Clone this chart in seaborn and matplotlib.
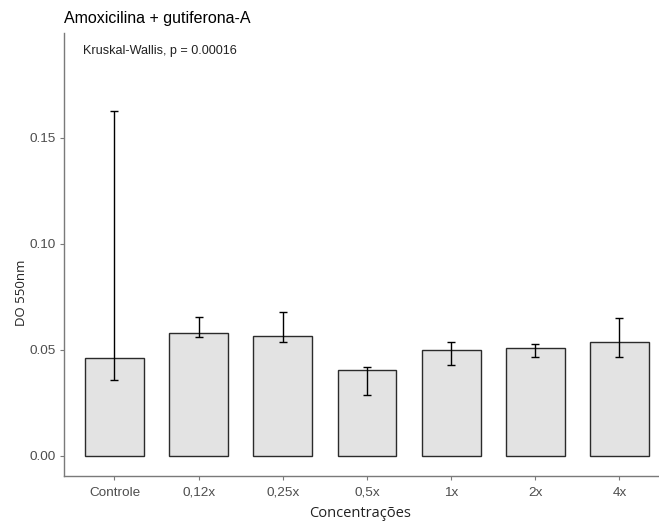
import matplotlib
matplotlib.use("Agg")
import matplotlib.pyplot as plt
import seaborn as sns
import numpy as np
import pandas as pd

# Absorbance (DO 550nm) by concentration
categorias = ["Controle", "0,12x", "0,25x", "0,5x", "1x", "2x", "4x"]
media = [0.0461, 0.0579, 0.0568, 0.0407, 0.0499, 0.0509, 0.0539]
limite_inf = [0.0357, 0.0560, 0.0538, 0.0288, 0.0428, 0.0468, 0.0468]
limite_sup = [0.1629, 0.0657, 0.0678, 0.0418, 0.0539, 0.0530, 0.0650]
yticks = [0.00, 0.05, 0.10, 0.15]

df = pd.DataFrame({"conc": categorias, "do": media})

sns.set_style("white")
plt.rcParams["font.family"] = ["Liberation Sans", "DejaVu Sans"]

fig = plt.figure(figsize=(6.59, 5.23), dpi=100)
ax = fig.add_axes([64 / 659, (523 - 475.7) / 523, (659 - 64) / 659, (475.7 - 33) / 523])

sns.barplot(data=df, x="conc", y="do", order=categorias, width=0.7,
            color="#e3e3e3", edgecolor="#2b2b2b", linewidth=1.0,
            errorbar=None, ax=ax, saturation=1)

xs = np.arange(len(categorias))
yerr = np.array([np.array(media) - np.array(limite_inf),
                 np.array(limite_sup) - np.array(media)])
ax.errorbar(xs, media, yerr=yerr, fmt="none", ecolor="black",
            elinewidth=1.0, capsize=2.9, capthick=1.0, zorder=5)

ax.set_xlim(-0.6, 6.47)
ax.set_ylim(-0.0093, 0.1995)
ax.set_yticks(yticks)
ax.set_yticklabels([f"{v:.2f}" for v in yticks])

for side in ["top", "right"]:
    ax.spines[side].set_visible(False)
for side in ["left", "bottom"]:
    ax.spines[side].set_color("#7a7a7a")
    ax.spines[side].set_linewidth(1.0)

ax.tick_params(axis="both", which="both", length=3, width=0.8, color="#7a7a7a",
               labelsize=9.7, labelcolor="#4d4d4d", pad=3,
               left=True, bottom=True)
ax.tick_params(axis="x", pad=5)

ax.set_xlabel("Concentrações", fontsize=10.5, family=["Open Sans", "DejaVu Sans"],
              color="#222222", va="top")
ax.set_ylabel("DO 550nm", fontsize=9.5, family=["Open Sans", "DejaVu Sans"],
              color="#222222")
ax.xaxis.set_label_coords(0.497, -0.068)
ax.yaxis.set_label_coords(-0.06, 0.413)

fig.text(64 / 659, 1 - 18 / 523, "Amoxicilina + gutiferona-A", fontsize=11.5,
         color="black", va="center", ha="left")
fig.text(83 / 659, 1 - 51 / 523, "Kruskal-Wallis, p = 0.00016", fontsize=9.1,
         color="#222222", va="center", ha="left")

fig.savefig("out.png", dpi=100)
